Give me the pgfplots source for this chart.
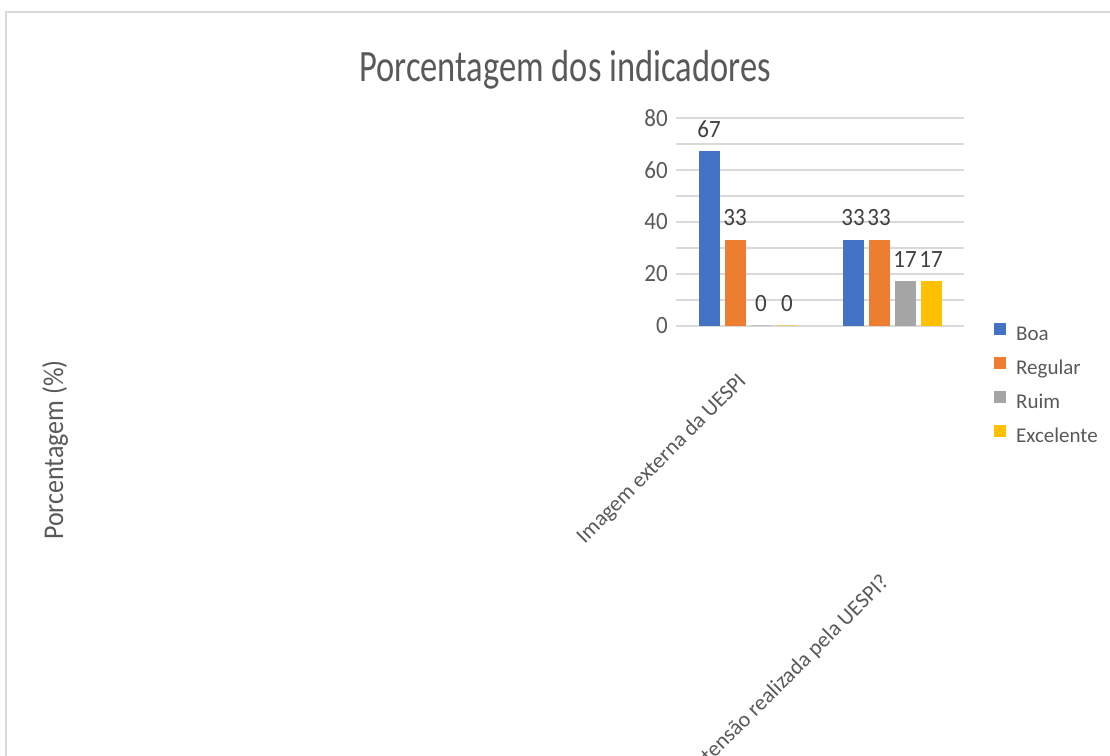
\documentclass[border=0pt]{standalone}
\usepackage{fontspec}
\setmainfont{Carlito}
\usepackage{graphicx}
\usepackage{pgfplots}
\pgfplotsset{compat=1.18}

\definecolor{boa}{HTML}{4472C4}
\definecolor{regular}{HTML}{ED7D31}
\definecolor{ruim}{HTML}{A5A5A5}
\definecolor{excelente}{HTML}{FFC000}
\definecolor{txtgray}{HTML}{595959}
\definecolor{lblgray}{HTML}{404040}
\definecolor{gridgray}{HTML}{D9D9D9}

\begin{document}
\begin{tikzpicture}
% chart frame (runs past the right and bottom edges, as in the source)
\draw[gridgray, line width=1.5pt] (6pt,743pt) rectangle (1130pt,-20pt);

\begin{axis}[
  at={(676pt,429pt)}, anchor=south west,
  scale only axis, width=288pt, height=208pt,
  ybar=6pt, bar width=20pt,
  xmin=-0.5, xmax=1.5, ymin=0, ymax=80,
  xtick=\empty,
  ytick={0,20,...,80}, minor ytick={10,30,50,70},
  ymajorgrids, yminorgrids,
  major grid style={gridgray, line width=1.5pt},
  minor grid style={gridgray, line width=1.5pt},
  axis line style={draw=none},
  tick style={draw=none},
  /pgf/number format/assume math mode=true,
  yticklabel style={font=\fontsize{23}{27}\selectfont, text=txtgray, inner sep=0pt, xshift=-8pt},
  yticklabel={\scalebox{1}[1.08]{\pgfmathprintnumber{\tick}}},
  nodes near coords={\scalebox{1}[1.08]{\pgfmathprintnumber{\pgfplotspointmeta}}},
  every node near coord/.append style={font=\fontsize{23}{27}\selectfont, text=lblgray, inner sep=0pt, yshift=14pt},
  legend cell align=left,
  legend image code/.code={\fill[#1,draw=none] (0pt,0pt) rectangle (12pt,12pt);},
  legend style={at={(1.104,0.014)}, anchor=north west, draw=none, fill=none,
    inner sep=0pt, row sep=12pt,
    font=\fontsize{21}{25}\selectfont, text=txtgray,
    nodes={inner sep=0pt, text height=15pt, text depth=5pt},
    /tikz/every odd column/.append style={column sep=10pt}},
]
\addplot[fill=boa, draw=boa, line width=1pt] coordinates {(0,67) (1,33)};
\addplot[fill=regular, draw=regular, line width=1pt] coordinates {(0,33) (1,33)};
\addplot[fill=ruim, draw=ruim, line width=1pt] coordinates {(0,0) (1,17)};
\addplot[fill=excelente, draw=excelente, line width=1pt] coordinates {(0,0) (1,17)};
\legend{Boa, Regular, Ruim, Excelente}
\end{axis}

% title and axis title
\node[anchor=base, font=\fontsize{34.5}{40}\selectfont, text=txtgray] at (565pt,673pt) {\scalebox{1}[1.3]{Porcentagem dos indicadores}};
\node[rotate=90, font=\fontsize{26}{30}\selectfont, text=txtgray] at (55pt,305pt) {\scalebox{1}[1.1]{Porcentagem (\%)}};

% category labels
\node[rotate=45, anchor=east, inner sep=0pt, font=\fontsize{22}{26}\selectfont, text=txtgray] at (743pt,377pt) {Imagem externa da UESPI};
\node[rotate=45, anchor=east, inner sep=0pt, font=\fontsize{22}{26}\selectfont, text=txtgray] at (886pt,176pt) {Avaliação da extensão realizada pela UESPI?};

\pgfresetboundingbox
\useasboundingbox (0pt,0pt) rectangle (1110pt,755pt);
\end{tikzpicture}
\end{document}
